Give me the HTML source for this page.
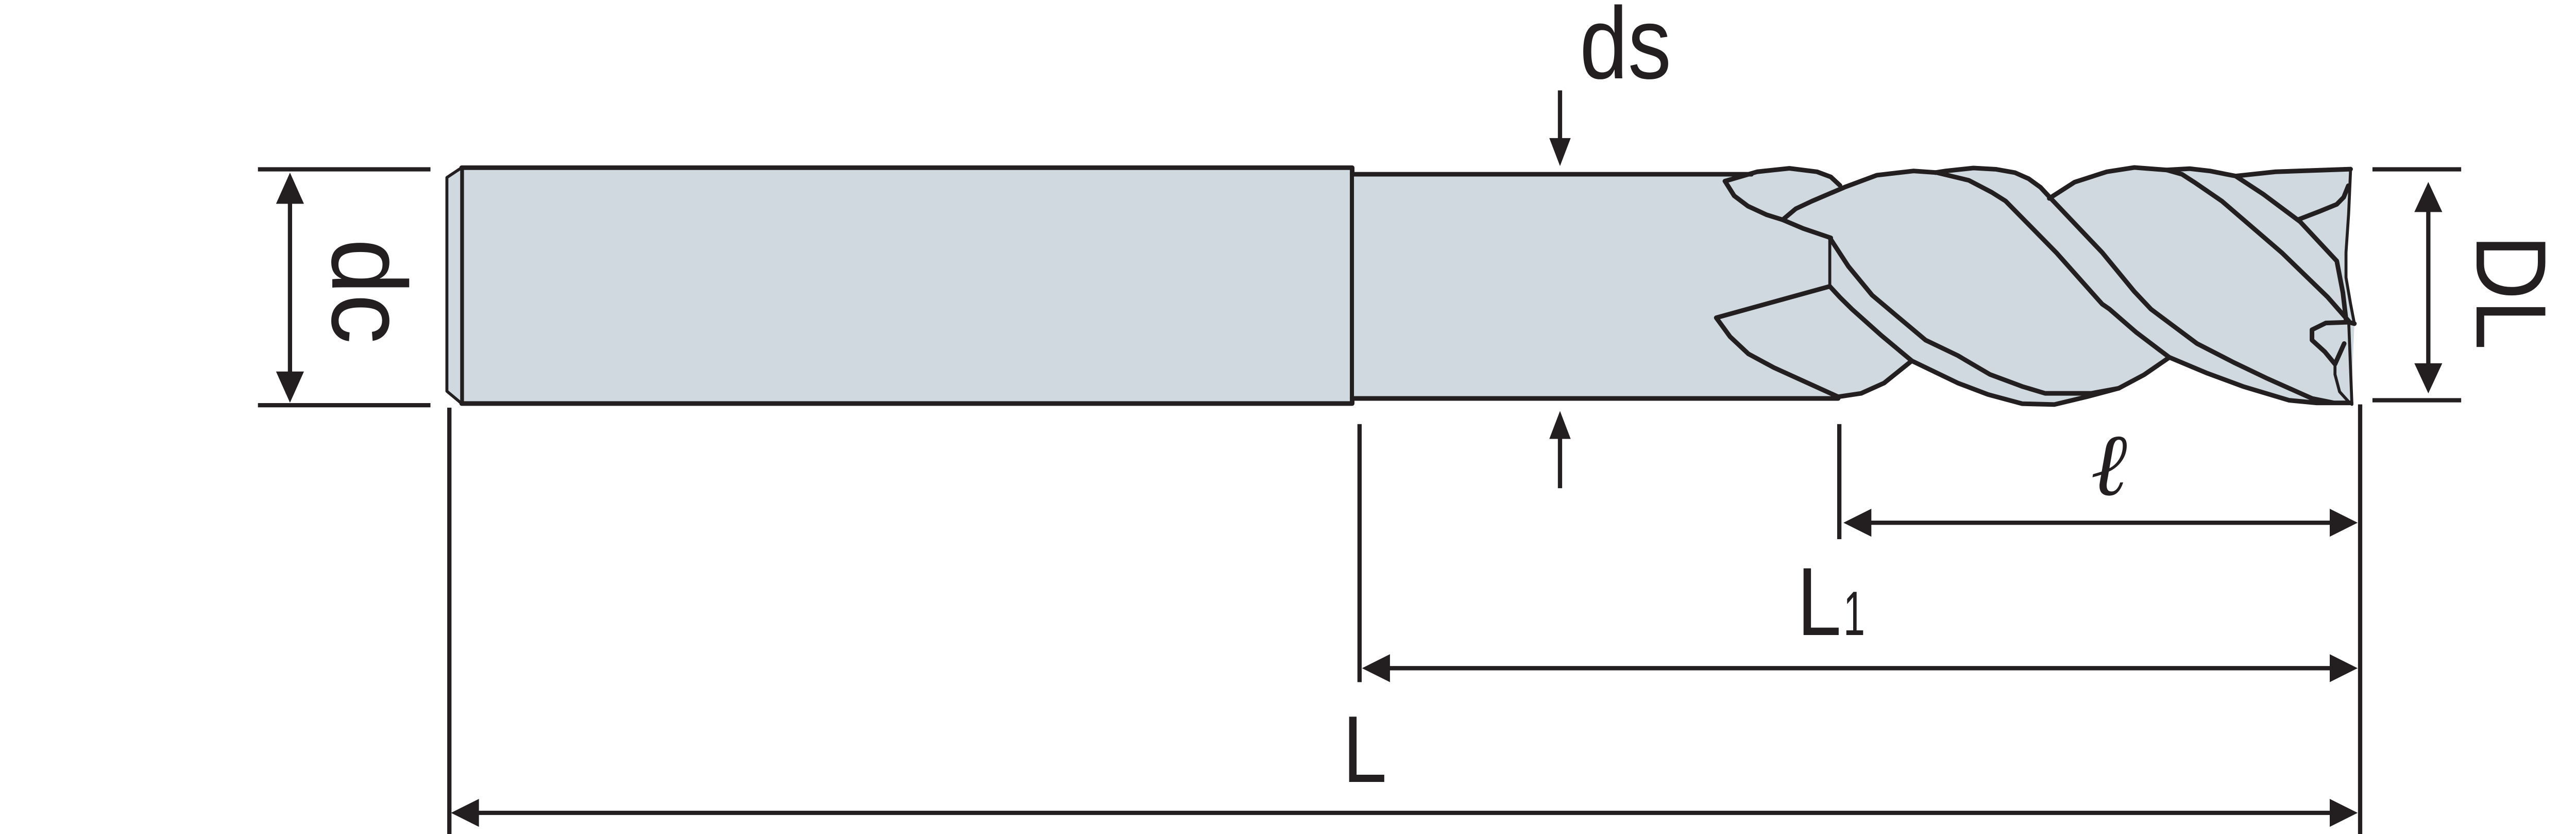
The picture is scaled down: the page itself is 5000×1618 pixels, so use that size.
<!DOCTYPE html>
<html><head><meta charset="utf-8"><style>
html,body{margin:0;padding:0;background:#fff;width:5000px;height:1618px;overflow:hidden}
svg{display:block}
text{font-family:"Liberation Sans","DejaVu Sans",sans-serif;fill:#231f20}
</style></head><body>
<svg width="5000" height="1618" viewBox="0 0 5000 1618" xmlns="http://www.w3.org/2000/svg">
<g transform="scale(3.189)" stroke="#231f20" stroke-linejoin="round" stroke-linecap="round" fill="none">
  <!-- shank -->
  <rect x="281" y="102" width="542" height="143.5" fill="#cfd9df" stroke-width="2.8"/>
  <polygon points="272,108 281,102 281,245.5 272,238" fill="#cfd9df" stroke-width="1.8"/>
  <!-- neck + flute envelope -->
  <polygon fill="#cfd9df" stroke="none" points="823,105 1066,106 1069.5,104.5 1089.1,102.4 1105.9,104.5 1114.3,107.6 1119.9,112.8 1122.7,113.9 1142.3,106.6 1164.7,104 1184.3,104 1201.1,102.2 1226.3,105 1234.7,108.7 1248.7,121.2 1262.7,110.8 1282.3,104.5 1299.1,101.9 1318.7,103.4 1332.7,102.6 1360.7,107.1 1430.7,102.9 1427.9,153.6 1427.9,168.8 1433,196.9 1431,246 1410,245.1 1393.2,243.5 1365.2,235.1 1342.8,226.8 1320.4,217.4 1305,228 1289.6,236.2 1270,241.4 1250.4,246.1 1230.8,245.6 1210,240 1191.6,233 1163.6,219.5 1146.8,233 1132.8,239.3 1118.8,242.4 823,242.4"/>
  <line x1="823" y1="102" x2="823" y2="245.5" stroke-width="2.2"/>
  <g stroke-width="2.8">
  <polyline points="823,106 1066,106"/>
  <polyline points="823,242.4 1118.8,242.4"/>
  <!-- lobe 1 -->
  <polyline points="1049.9,110.2 1069.5,104.5 1089.1,102.4 1105.9,104.5 1114.3,107.6 1119.9,112.8"/>
  <polyline points="1049.9,110.2 1055.5,119.1 1063.9,125.4 1075.1,130.6 1085,133.7 1097.5,139 1114.3,144.7"/>
  <line x1="1113.7" y1="144.7" x2="1113.7" y2="174.2" stroke-width="1.8"/>
  <!-- lower-left flute -->
  <polyline points="1113.7,174.2 1044.6,193.3 1053,204.8 1064.2,215.3 1079.6,223.6 1118.8,241.4 1132.8,239.3 1146.8,233 1163.6,219.5"/>
  <!-- band1 upper -->
  <polyline points="1085,133.7 1093,127 1103,122.3 1122.7,113.9 1142.3,106.6 1164.7,104 1178.7,105 1198.3,109.7 1212.3,117 1220.7,122.3 1251.5,153.6 1279.5,185 1284,188.1 1300,202 1314.8,213.2 1320.4,217.4 1342.8,226.8 1365.2,235.1 1393.2,243.5 1410,245.1 1431,245.1"/>
  <!-- band1 lower -->
  <polyline points="1113.7,144.7 1125,162 1139.5,179.6 1149.6,188.1 1172,206.9 1191.6,216.3 1211.2,227.8 1230.8,235.1 1244.8,239.3 1272.8,239.3 1289.6,236.2 1305,228 1320.4,217.4"/>
  <polyline points="1113.7,174.2 1120,181 1127.2,188.1 1145,204 1163.6,219.5 1191.6,233 1210,240 1230.8,245.6 1250.4,246.1 1270,241.4 1289.6,236.2"/>
  <!-- band2 left -->
  <polyline points="1178,105 1184.3,104 1201.1,102.2 1215,103 1226.3,105 1234.7,108.7 1242,114 1248.7,121.2 1279.5,153.6 1299.1,177.4 1309.2,188.1 1337.2,209 1359.6,220.5 1379.2,229.9 1407.2,242.4 1420,245"/>
  <!-- band2 second -->
  <polyline points="1247.3,120.7 1262.7,110.8 1282.3,104.5 1299.1,101.9 1318.7,103.4 1328,106 1335.5,110.8 1352.3,122.3 1388.7,153.6 1416.7,180.7 1429.6,195.4"/>
  <!-- line 10 -->
  <polyline points="1318.7,103.4 1332.7,102.6 1345,104 1355,106 1360.7,107.1 1377.5,118.1 1399.9,134.8 1422.3,158.8 1426,178 1428,195"/>
  <!-- top right -->
  <polyline points="1360.7,107.1 1385,104.5 1430.7,102.9"/>
  <polyline points="1398.5,133.7 1412,128.5 1422.3,124.3 1426.5,120 1429.3,113"/>
  <polyline points="1430.7,102.9 1429.5,130 1427.9,153.6 1427.9,168.8 1430.7,185 1433,196.9" stroke-width="1.8"/>
  <!-- tip -->
  <polyline points="1433,196.9 1429.6,196 1415.6,196.5 1407.2,200.6 1407.2,206.9 1415,214 1421.2,221.5 1426.8,209"/>
  <polyline points="1421.2,221.5 1421.2,227.8 1424,238.3 1429.6,244.5" stroke-width="1.8"/>
  <line x1="1429.6" y1="197" x2="1431.5" y2="246" stroke-width="1.8"/>
  </g>
  <!-- dimension lines -->
  <g stroke-width="2.6" stroke-linecap="butt">
    <line x1="157" y1="103" x2="262" y2="103"/>
    <line x1="157" y1="246.5" x2="262" y2="246.5"/>
    <line x1="176.5" y1="118" x2="176.5" y2="232"/>
    <line x1="1444" y1="103" x2="1498" y2="103"/>
    <line x1="1444" y1="243.5" x2="1498" y2="243.5"/>
    <line x1="1478" y1="122" x2="1478" y2="228"/>
    <line x1="949.5" y1="55" x2="949.5" y2="88"/>
    <line x1="949.5" y1="262" x2="949.5" y2="297"/>
    <line x1="273.5" y1="248" x2="273.5" y2="508"/>
    <line x1="827.5" y1="258" x2="827.5" y2="415"/>
    <line x1="1119.5" y1="258" x2="1119.5" y2="328"/>
    <line x1="1436.5" y1="246" x2="1436.5" y2="508"/>
    <line x1="1136" y1="318" x2="1420" y2="318"/>
    <line x1="843" y1="406.5" x2="1420" y2="406.5"/>
    <line x1="289" y1="494.5" x2="1420" y2="494.5"/>
  </g>
  <g fill="#231f20" stroke="none">
    <polygon points="176.5,105 168,124 185,124"/>
    <polygon points="176.5,245 168,226 185,226"/>
    <polygon points="1478,110.7 1469.5,129 1486.5,129"/>
    <polygon points="1478,239.3 1469.5,221 1486.5,221"/>
    <polygon points="949.5,101 943,84 956,84"/>
    <polygon points="949.5,250 943,267 956,267"/>
    <polygon points="1122,318 1139,309.5 1139,326.5"/>
    <polygon points="1435,318 1418,309.5 1418,326.5"/>
    <polygon points="829,406.5 846,398 846,415"/>
    <polygon points="1435,406.5 1418,398 1418,415"/>
    <polygon points="274.5,494.5 291.5,486 291.5,503"/>
    <polygon points="1435,494.5 1418,486 1418,503"/>
  </g>
</g>
<!-- labels (real px) -->
<text x="3066" y="152" font-size="198" textLength="178" lengthAdjust="spacingAndGlyphs">ds</text>
<text transform="translate(645,463) rotate(90)" font-size="206" textLength="204" lengthAdjust="spacingAndGlyphs">dc</text>
<text transform="translate(4807,455) rotate(90)" font-size="194" textLength="224" lengthAdjust="spacingAndGlyphs">DL</text>
<text x="3488" y="1232" font-size="188" textLength="86" lengthAdjust="spacingAndGlyphs">L</text>
<text x="3578" y="1232" font-size="122" textLength="42" lengthAdjust="spacingAndGlyphs">1</text>
<text x="2606" y="1517" font-size="184" textLength="86" lengthAdjust="spacingAndGlyphs">L</text>
<text x="4058" y="960" font-size="170" font-style="italic" style="font-family:'DejaVu Serif','Liberation Serif',serif">ℓ</text>
</svg>
</body></html>
